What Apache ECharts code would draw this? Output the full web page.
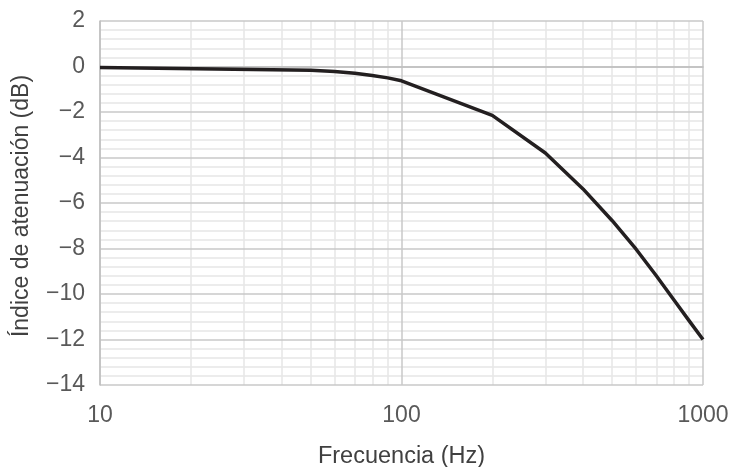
<!DOCTYPE html>
<html>
<head>
<meta charset="utf-8">
<script src="https://cdn.jsdelivr.net/npm/echarts@6/dist/echarts.min.js"></script>
<style>
html,body{margin:0;padding:0;background:#fff;}
#chart{width:732px;height:467px;}
</style>
</head>
<body>
<div id="chart"></div>
<script>
// Data
var frequencies = [10, 50, 60, 70, 80, 90, 100, 200, 300, 400, 500, 600, 700, 800, 900, 1000];
var attenuation = [-0.04, -0.17, -0.22, -0.3, -0.4, -0.5, -0.63, -2.15, -3.8, -5.38, -6.78, -8.03, -9.2, -10.25, -11.18, -12.0];
var minorFrequencies = [20, 30, 40, 50, 60, 70, 80, 90, 200, 300, 400, 500, 600, 700, 800, 900];
var xTitle = 'Frecuencia (Hz)';
var yTitle = 'Índice de atenuación (dB)';

var points = frequencies.map(function (f, i) { return [f, attenuation[i]]; });
var FONT = '"Liberation Sans", Arial, sans-serif';

var chart = echarts.init(document.getElementById('chart'), null, {renderer: 'canvas'});
chart.setOption({
  animation: false,
  backgroundColor: '#ffffff',
  grid: {left: 100, right: 29, top: 21, bottom: 82, containLabel: false, outerBoundsMode: 'none'},
  xAxis: {
    type: 'log',
    logBase: 10,
    min: 10,
    max: 1000,
    name: xTitle,
    nameLocation: 'middle',
    nameGap: 60,
    nameTextStyle: {fontSize: 23.5, color: '#404040', fontFamily: FONT},
    axisLine: {show: true, lineStyle: {color: '#bfbfbf', width: 1.5}},
    axisTick: {show: false},
    axisLabel: {
      fontSize: 23, color: '#595959', margin: 19, fontFamily: FONT,
      formatter: function (v) { return String(Math.round(v)); }
    },
    splitLine: {show: true, lineStyle: {color: '#c8c8c8', width: 1.5}},
    minorSplitLine: {show: false}
  },
  yAxis: {
    type: 'value',
    min: -14,
    max: 2,
    interval: 2,
    name: yTitle,
    nameLocation: 'middle',
    nameGap: 67,
    nameTextStyle: {fontSize: 23, color: '#404040', fontFamily: FONT, padding: [0, 6, 0, 0]},
    axisLine: {show: true, lineStyle: {color: '#bfbfbf', width: 1.5}},
    axisTick: {show: false},
    axisLabel: {
      fontSize: 23, color: '#595959', margin: 15, fontFamily: FONT,
      formatter: function (v) { return v < 0 ? '\u2212' + Math.abs(v) : String(v); }
    },
    splitLine: {show: true, lineStyle: {color: '#c8c8c8', width: 1.5}},
    minorTick: {show: false, splitNumber: 5},
    minorSplitLine: {show: true, lineStyle: {color: '#e6e6e6', width: 1.5}}
  },
  series: [{
    type: 'line',
    data: points,
    showSymbol: false,
    symbol: 'none',
    smooth: false,
    lineStyle: {color: '#231f20', width: 3.5, join: 'round'},
    z: 3,
    markLine: {
      silent: true,
      z: -1,
      symbol: ['none', 'none'],
      label: {show: false},
      lineStyle: {color: '#e6e6e6', width: 1.5, type: 'solid'},
      emphasis: {disabled: true},
      data: minorFrequencies.map(function (f) { return {xAxis: f}; })
    }
  }]
});
</script>
</body>
</html>
